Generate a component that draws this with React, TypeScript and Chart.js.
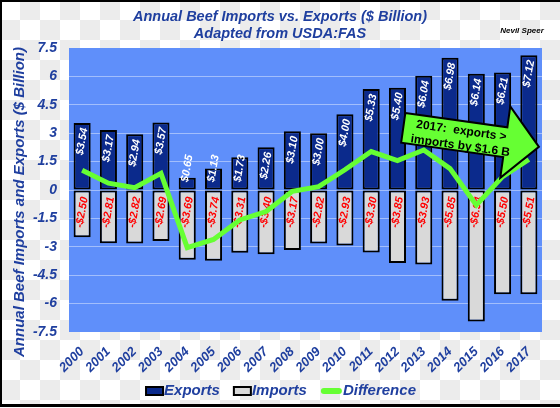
import React, { useEffect, useRef } from 'react';
import { Chart, registerables } from 'chart.js';

Chart.register(...registerables);

// ---- data ----
const YEARS = ['2000', '2001', '2002', '2003', '2004', '2005', '2006', '2007', '2008', '2009', '2010', '2011', '2012', '2013', '2014', '2015', '2016', '2017'];
const EXPORTS = [3.54, 3.17, 2.94, 3.57, 0.65, 1.13, 1.73, 2.26, 3.10, 3.00, 4.00, 5.33, 5.40, 6.04, 6.98, 6.14, 6.21, 7.12];
const IMPORTS = [-2.50, -2.81, -2.82, -2.69, -3.69, -3.74, -3.31, -3.40, -3.17, -2.82, -2.93, -3.30, -3.85, -3.93, -5.85, -6.94, -5.50, -5.51];
const DIFFERENCE = [1.04, 0.36, 0.12, 0.88, -3.04, -2.61, -1.58, -1.14, -0.07, 0.18, 1.07, 2.03, 1.55, 2.11, 1.13, -0.80, 0.71, 1.61];
const SERIES_NAMES = ['Exports', 'Imports', 'Difference'];
const Y_MIN = -7.5;
const Y_MAX = 7.5;
const Y_STEP = 1.5;
const TITLE_LINES = ['Annual Beef Imports vs. Exports ($ Billion)', 'Adapted from USDA:FAS'];
const Y_TITLE = 'Annual Beef Imports and Exports ($ Billion)';
const CALLOUT_LINES = ['2017:  exports >', 'imports by $1.6 B'];
const CALLOUT_ANCHOR = [12.3, 4.07]; // category index, value
const AUTHOR = 'Nevil Speer';

// ---- styles ----
const FONT = "'Liberation Sans', Arial, Helvetica, sans-serif";
const BLUE_TEXT = '#1f3f9f';
const PLOT_BG = '#5f8ffa';
const GRID = 'rgba(255,255,255,0.42)';
const EXPORT_FILL = '#0b2a8c';
const IMPORT_FILL = '#d9d9d9';
const LINE_GREEN = '#66ff33';
const LABEL_RED = '#ff0000';
const SERIES_FILLS = [EXPORT_FILL, IMPORT_FILL, LINE_GREEN];

const fmtExport = (v: number) => '$' + v.toFixed(2);
const fmtImport = (v: number) => '-$' + Math.abs(v).toFixed(2);

const bgPlugin = {
  id: 'plotBg',
  beforeDraw(chart: any) {
    const { ctx, chartArea } = chart;
    ctx.save();
    ctx.fillStyle = PLOT_BG;
    ctx.fillRect(chartArea.left, chartArea.top, chartArea.right - chartArea.left, chartArea.bottom - chartArea.top);
    ctx.restore();
  },
};

const barLabelPlugin = {
  id: 'barLabels',
  afterDatasetDraw(chart: any, args: any) {
    const idx = args.index;
    if (idx > 1) return;
    const meta = chart.getDatasetMeta(idx);
    const ctx = chart.ctx;
    const zeroY = chart.scales.y.getPixelForValue(0);
    const ang = (-80 * Math.PI) / 180;
    ctx.save();
    ctx.font = `italic bold 11px ${FONT}`;
    ctx.fillStyle = idx === 0 ? '#ffffff' : LABEL_RED;
    ctx.textAlign = 'right';
    ctx.textBaseline = 'middle';
    meta.data.forEach((bar: any, i: number) => {
      const txt = idx === 0 ? fmtExport(EXPORTS[i]) : fmtImport(IMPORTS[i]);
      const tw = ctx.measureText(txt).width;
      const h = tw * Math.sin(-ang);
      const dx = tw * Math.cos(ang);
      let endY: number;
      if (idx === 0) {
        endY = bar.y + 5;
        if (endY + h > zeroY - 8) endY = zeroY - 8 - h;
      } else {
        endY = zeroY + 7;
      }
      ctx.save();
      ctx.translate(bar.x + dx / 2, endY);
      ctx.rotate(ang);
      ctx.fillText(txt, 0, 0);
      ctx.restore();
    });
    ctx.restore();
  },
};

const decorPlugin = {
  id: 'decor',
  afterDraw(chart: any) {
    const { ctx, chartArea, scales } = chart;
    // y axis title
    ctx.save();
    ctx.font = `italic bold 15px ${FONT}`;
    ctx.fillStyle = BLUE_TEXT;
    ctx.textAlign = 'center';
    ctx.textBaseline = 'middle';
    ctx.translate(20, (chartArea.top + chartArea.bottom) / 2 + 12);
    ctx.rotate(-Math.PI / 2);
    ctx.fillText(Y_TITLE, 0, 0);
    ctx.restore();

    // author
    ctx.save();
    ctx.font = `italic bold 8px ${FONT}`;
    ctx.fillStyle = '#000';
    ctx.textAlign = 'center';
    ctx.textBaseline = 'middle';
    ctx.fillText(AUTHOR, chartArea.right - 20, chartArea.top - 17);
    ctx.restore();

    // legend
    ctx.save();
    ctx.font = `italic bold 15px ${FONT}`;
    const items = SERIES_NAMES.map((name, i) => ({ name, i, sw: i === 2 ? 21 : 17, tw: ctx.measureText(name).width }));
    const gapText = 1;
    const spacing = 14;
    const total = items.reduce((s, it) => s + it.sw + gapText + it.tw, 0) + spacing * (items.length - 1);
    let lx = chart.width / 2 + 1 - total / 2;
    const cy = chartArea.bottom + 59;
    items.forEach((it) => {
      if (it.i < 2) {
        ctx.fillStyle = SERIES_FILLS[it.i];
        ctx.fillRect(lx, cy - 4, it.sw, 8);
        ctx.lineWidth = 2;
        ctx.strokeStyle = '#000';
        ctx.strokeRect(lx, cy - 4, it.sw, 8);
      } else {
        ctx.fillStyle = LINE_GREEN;
        ctx.beginPath();
        (ctx as any).roundRect(lx, cy - 3, it.sw, 6, 3);
        ctx.fill();
      }
      ctx.fillStyle = BLUE_TEXT;
      ctx.textAlign = 'left';
      ctx.textBaseline = 'middle';
      ctx.fillText(it.name, lx + it.sw + gapText, cy);
      lx += it.sw + gapText + it.tw + spacing;
    });
    ctx.restore();

    // callout arrow
    const ax = scales.x.getPixelForValue(CALLOUT_ANCHOR[0]);
    const ay = scales.y.getPixelForValue(CALLOUT_ANCHOR[1]);
    const th = (8 * Math.PI) / 180;
    const L1 = 103, H = 30, A = 21, LH = 34;
    ctx.save();
    ctx.translate(ax, ay);
    ctx.rotate(th);
    ctx.beginPath();
    ctx.moveTo(0, 0);
    ctx.lineTo(L1, 0);
    ctx.lineTo(L1, -A);
    ctx.lineTo(L1 + LH, H / 2);
    ctx.lineTo(L1, H + A);
    ctx.lineTo(L1, H);
    ctx.lineTo(0, H);
    ctx.closePath();
    ctx.fillStyle = LINE_GREEN;
    ctx.fill();
    ctx.lineWidth = 2;
    ctx.strokeStyle = '#000';
    ctx.lineJoin = 'miter';
    ctx.stroke();
    ctx.font = `bold 12px ${FONT}`;
    ctx.fillStyle = '#000';
    ctx.textAlign = 'center';
    ctx.textBaseline = 'middle';
    ctx.fillText(CALLOUT_LINES[0], 58, 10);
    ctx.fillText(CALLOUT_LINES[1], 59, 25);
    ctx.restore();

    // frame
    ctx.save();
    ctx.fillStyle = '#000';
    ctx.fillRect(0, 0, chart.width, 2);
    ctx.fillRect(0, 0, 2, chart.height);
    ctx.fillRect(0, chart.height - 4, chart.width, 3);
    ctx.fillStyle = '#fff';
    ctx.fillRect(0, chart.height - 1, chart.width, 1);
    ctx.restore();
  },
};

export default function App() {
  const ref = useRef<HTMLCanvasElement | null>(null);

  useEffect(() => {
    if (!ref.current) return;
    Chart.defaults.font.family = FONT;
    const chart = new Chart(ref.current, {
      type: 'bar',
      data: {
        labels: YEARS,
        datasets: [
          {
            type: 'bar',
            label: SERIES_NAMES[0],
            data: EXPORTS,
            backgroundColor: EXPORT_FILL,
            borderColor: '#000',
            borderWidth: 2,
            borderSkipped: false,
            grouped: false,
            barPercentage: 0.65,
            categoryPercentage: 1,
            order: 1,
          } as any,
          {
            type: 'bar',
            label: SERIES_NAMES[1],
            data: IMPORTS,
            backgroundColor: IMPORT_FILL,
            borderColor: '#000',
            borderWidth: 2,
            borderSkipped: false,
            grouped: false,
            barPercentage: 0.65,
            categoryPercentage: 1,
            order: 1,
          } as any,
          {
            type: 'line',
            label: SERIES_NAMES[2],
            data: DIFFERENCE,
            borderColor: LINE_GREEN,
            backgroundColor: LINE_GREEN,
            borderWidth: 5,
            pointRadius: 0,
            tension: 0,
            order: 0,
          } as any,
        ],
      },
      options: {
        animation: false,
        responsive: false,
        devicePixelRatio: 1,
        layout: { padding: { left: 0, right: 0, top: 0, bottom: 35 } },
        plugins: {
          tooltip: { enabled: false },
          legend: { display: false },
          title: {
            display: true,
            text: TITLE_LINES,
            color: BLUE_TEXT,
            font: { family: FONT, size: 14.5, style: 'italic', weight: 'bold' },
            padding: { top: 8, bottom: 5.2 },
          },
        },
        scales: {
          x: {
            offset: true,
            grid: { display: false, drawTicks: false },
            border: { display: false },
            ticks: {
              color: BLUE_TEXT,
              font: { family: FONT, size: 13, style: 'italic', weight: 'bold' },
              minRotation: 45,
              maxRotation: 45,
              padding: 12,
              autoSkip: false,
            },
            afterFit: (s: any) => {
              s.height = 41;
            },
          },
          y: {
            min: Y_MIN,
            max: Y_MAX,
            position: 'left',
            grid: {
              drawTicks: false,
              color: (c: any) => (c.tick && Math.abs(c.tick.value) > Y_MAX - 0.01 ? 'rgba(0,0,0,0)' : GRID),
              lineWidth: 1,
            },
            border: { display: false },
            ticks: {
              stepSize: Y_STEP,
              color: BLUE_TEXT,
              font: { family: FONT, size: 14, style: 'italic', weight: 'bold' },
              padding: 12,
            },
            afterFit: (s: any) => {
              s.width = 69;
            },
          },
          yR: {
            position: 'right',
            display: true,
            grid: { display: false, drawTicks: false },
            border: { display: false },
            ticks: { display: false },
            afterFit: (s: any) => {
              s.width = 18;
            },
          },
        },
      },
      plugins: [bgPlugin, barLabelPlugin, decorPlugin],
    });
    return () => chart.destroy();
  }, []);

  return (
    <div style={{ position: 'fixed', left: 0, top: 0, width: 560, height: 408 }}>
      <canvas
        ref={ref}
        width={560}
        height={408}
        style={{
          display: 'block',
          width: 560,
          height: 408,
          background: 'repeating-conic-gradient(#ececec 0% 25%, #ffffff 0% 50%) 0 0 / 40px 40px',
        }}
      />
    </div>
  );
}
